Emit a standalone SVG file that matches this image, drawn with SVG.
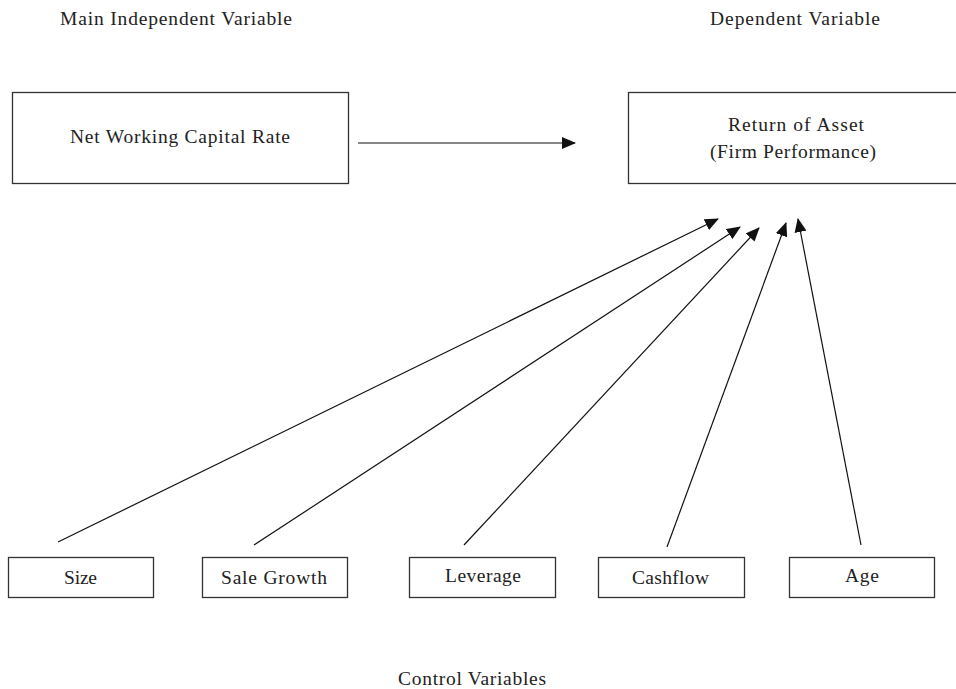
<svg xmlns="http://www.w3.org/2000/svg" width="956" height="689" viewBox="0 0 956 689">
<style>
text{font-family:"Liberation Serif","Times New Roman",serif;font-size:19.5px;fill:#222;text-anchor:middle}
.box{fill:#fff;stroke:#333;stroke-width:1.3}
.ln{stroke:#111;stroke-width:1.2;fill:none;marker-end:url(#ah)}
</style>
<defs>
<marker id="ah" markerWidth="14" markerHeight="12" refX="13" refY="6" orient="auto" markerUnits="userSpaceOnUse">
<path d="M0,0 L14,6 L0,12 Z" fill="#111"/>
</marker>
</defs>
<rect width="956" height="689" fill="#fff"/>
<text x="176" y="25" textLength="232">Main Independent Variable</text>
<text x="795" y="25" textLength="170">Dependent Variable</text>
<text x="472" y="685" textLength="148">Control Variables</text>
<g id="nwc"><rect class="box" x="12.5" y="92.5" width="336" height="91"/><text x="180" y="143" textLength="220">Net Working Capital Rate</text></g>
<g id="roa"><rect class="box" x="628.5" y="92.5" width="340" height="91"/><text x="796" y="131" textLength="136">Return of Asset</text><text x="793" y="158" textLength="166">(Firm Performance)</text></g>
<g id="size"><rect class="box" x="8.5" y="557.5" width="145" height="40"/><text x="80.5" y="584" textLength="33">Size</text></g>
<g id="sale"><rect class="box" x="202.5" y="557.5" width="145" height="40"/><text x="274" y="584" textLength="106">Sale Growth</text></g>
<g id="lev"><rect class="box" x="409.5" y="557.5" width="146" height="40"/><text x="483" y="582" textLength="76">Leverage</text></g>
<g id="cash"><rect class="box" x="598.5" y="557.5" width="146" height="40"/><text x="670.5" y="584" textLength="77">Cashflow</text></g>
<g id="age"><rect class="box" x="789.5" y="557.5" width="145" height="40"/><text x="862" y="582" textLength="34">Age</text></g>
<g id="connectors">
<line class="ln" x1="358" y1="143" x2="575" y2="143"/>
<line class="ln" x1="58" y1="542" x2="718" y2="219"/>
<line class="ln" x1="254" y1="545" x2="740" y2="227"/>
<line class="ln" x1="464" y1="545" x2="759" y2="228"/>
<line class="ln" x1="667" y1="547" x2="786" y2="223"/>
<line class="ln" x1="861" y1="545" x2="798" y2="219"/>
</g>
</svg>
